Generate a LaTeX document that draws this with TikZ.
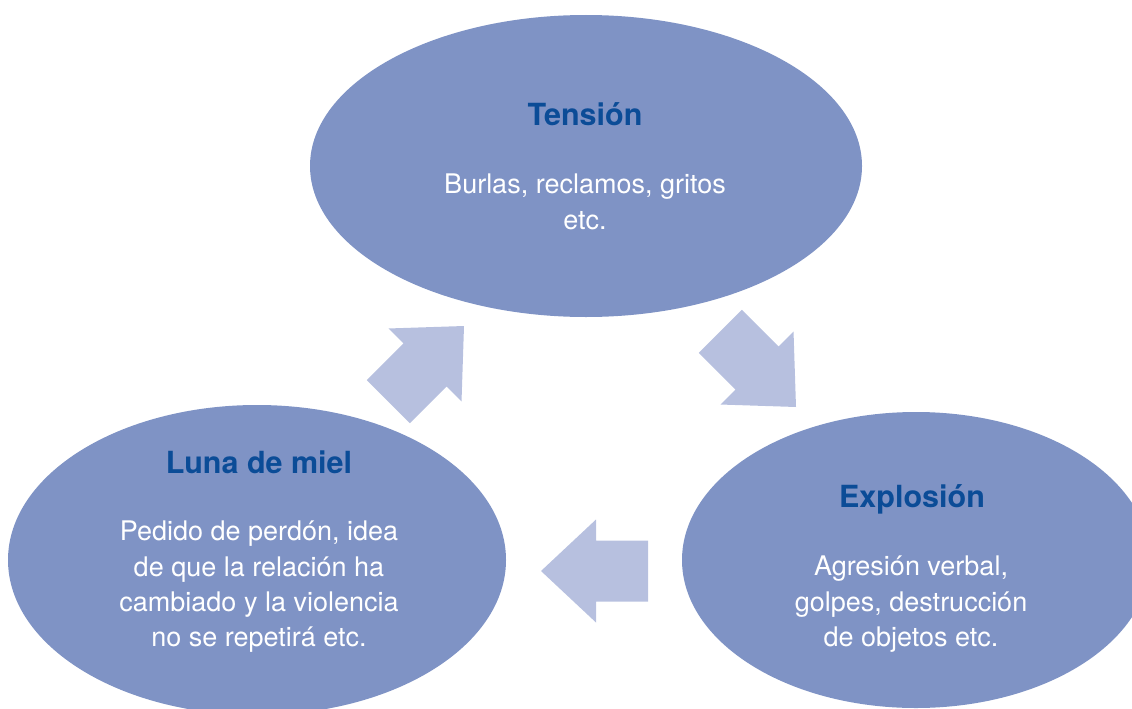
\documentclass[tikz,border=0pt]{standalone}
\usepackage{fontspec}
\setmainfont{TeX Gyre Heros}
\usetikzlibrary{shapes.geometric}
\definecolor{ellfill}{RGB}{127,147,197}
\definecolor{arrfill}{RGB}{183,192,223}
\definecolor{titleblue}{RGB}{11,76,151}
\tikzset{
  phase/.style={ellipse, fill=ellfill, draw=none, inner sep=0pt},
  phasetitle/.style={font=\fontsize{30.5}{36}\selectfont\bfseries, text=titleblue, inner sep=0pt, anchor=base},
  phasebody/.style={font=\fontsize{27}{35.3}\selectfont, text=white, align=center, inner sep=0pt, anchor=north},
  blockarrow/.style={fill=arrfill, draw=none}
}
\newcommand{\myblockarrow}[3]{%
  \begin{scope}[shift={(#1,#2)}, rotate=#3]
    \fill[blockarrow] (0,0) -- (-55,51.5) -- (-55,30.5) -- (-107,30.5) -- (-107,-30.5) -- (-55,-30.5) -- (-55,-51.5) -- cycle;
  \end{scope}}
\begin{document}
\begin{tikzpicture}[x=1pt, y=-1pt]
\useasboundingbox (0,0) rectangle (1132,709);
\clip (0,0) rectangle (1132,709);
% ellipses
\node[phase, minimum width=552pt, minimum height=302pt] (tension) at (586,166) {};
\node[phase, minimum width=498pt, minimum height=310pt] (luna) at (257,560) {};
\node[phase, minimum width=468pt, minimum height=296pt] (explosion) at (916,560) {};
% titles
\node[phasetitle] (tensiontitle) at (585,125) {Tensión};
\node[phasetitle] (lunatitle) at (259,473) {Luna de miel};
\node[phasetitle] (explosiontitle) at (912,507) {Explosión};
% bodies
\node[phasebody] (tensionbody) at (585,174) {Burlas, reclamos, gritos\\etc.};
\node[phasebody] (lunabody) at (259,521) {Pedido de perdón, idea\\de que la relación ha\\cambiado y la violencia\\no se repetirá etc.};
\node[phasebody] (explosionbody) at (911,556) {Agresión verbal,\\golpes, destrucción\\de objetos etc.};
% block arrows
\myblockarrow{796}{407}{-45}
\myblockarrow{541}{571}{180}
\myblockarrow{464}{326}{45}
\end{tikzpicture}
\end{document}
